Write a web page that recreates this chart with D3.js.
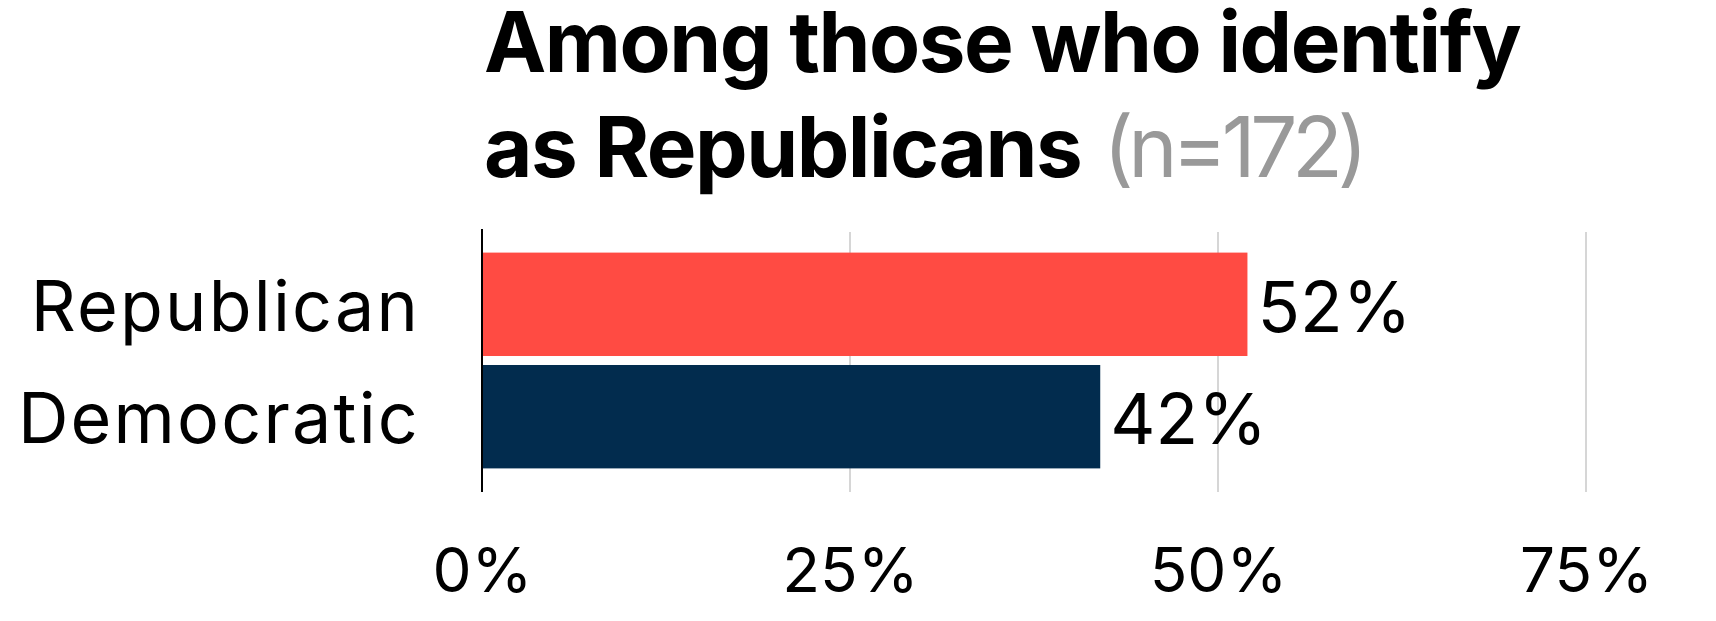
<!DOCTYPE html>
<html>
<head>
<meta charset="utf-8">
<script src="https://cdn.jsdelivr.net/npm/d3@7"></script>
<style>
  html, body { margin: 0; padding: 0; background: #fff; }
  svg { display: block; }
  text { font-family: Inter, "Noto Sans", sans-serif; }
</style>
</head>
<body>
<svg id="chart" width="1716" height="621"></svg>
<script>
// Party vote shares among self-identified Republicans
const categories = ["Republican", "Democratic"];
const values = [52, 42];
const barColors = ["#FF4B43", "#022C4E"];
const tickValues = [0, 25, 50, 75];
const titleLine1 = "Among those who identify";
const titleLine2 = "as Republicans";
const sampleNote = "(n=172)";

const svg = d3.select("#chart");

const x = d3.scaleLinear().domain([0, 75]).range([482, 1586]);
const y = d3.scaleBand().domain(categories).range([229, 492])
  .paddingInner(0.08).paddingOuter(0.21);

// Title, two lines, with the sample size in grey
const title = svg.append("text")
  .attr("x", 484)
  .attr("font-size", 83.5)
  .attr("font-weight", 700)
  .attr("letter-spacing", -1.5)
  .attr("fill", "#000");
title.append("tspan").attr("x", 484).attr("y", 72).text(titleLine1);
title.append("tspan").attr("x", 484).attr("y", 177).text(titleLine2);
title.append("tspan").attr("font-weight", 400).attr("fill", "#999999")
  .attr("letter-spacing", -5.5)
  .attr("dx", 22).text(sampleNote);

// Vertical gridlines
svg.append("g").selectAll("line")
  .data(tickValues.filter(d => d > 0))
  .join("line")
  .attr("x1", d => x(d)).attr("x2", d => x(d))
  .attr("y1", 232).attr("y2", 492)
  .attr("stroke", "#d6d6d6").attr("stroke-width", 2);

// Bars
svg.append("g").selectAll("rect")
  .data(categories)
  .join("rect")
  .attr("x", x(0))
  .attr("y", d => y(d))
  .attr("width", (d, i) => x(values[i]) - x(0))
  .attr("height", y.bandwidth())
  .attr("fill", (d, i) => barColors[i]);

// Baseline at zero
svg.append("line")
  .attr("x1", x(0)).attr("x2", x(0))
  .attr("y1", 229).attr("y2", 492)
  .attr("stroke", "#000").attr("stroke-width", 2);

// Category labels
svg.append("g").selectAll("text")
  .data(categories)
  .join("text")
  .attr("x", 420)
  .attr("y", d => y(d) + y.bandwidth() / 2 + 26.5)
  .attr("text-anchor", "end")
  .attr("font-size", 70)
  .attr("letter-spacing", 2.2)
  .attr("fill", "#000")
  .text(d => d);

// Value labels
svg.append("g").selectAll("text")
  .data(categories)
  .join("text")
  .attr("x", (d, i) => x(values[i]) + 10)
  .attr("y", d => y(d) + y.bandwidth() / 2 + 27.5)
  .attr("font-size", 70)
  .attr("fill", "#000")
  .text((d, i) => values[i] + "%");

// X axis labels
const xAxis = d3.axisBottom(x)
  .tickValues(tickValues)
  .tickSize(0)
  .tickPadding(0)
  .tickFormat(d => d + "%");
const gx = svg.append("g").call(xAxis);
gx.select(".domain").remove();
gx.selectAll("text")
  .attr("dy", null)
  .attr("y", 591.5)
  .attr("font-size", 62)
  .attr("font-family", "Inter, 'Noto Sans', sans-serif")
  .attr("fill", "#000");
</script>
</body>
</html>
